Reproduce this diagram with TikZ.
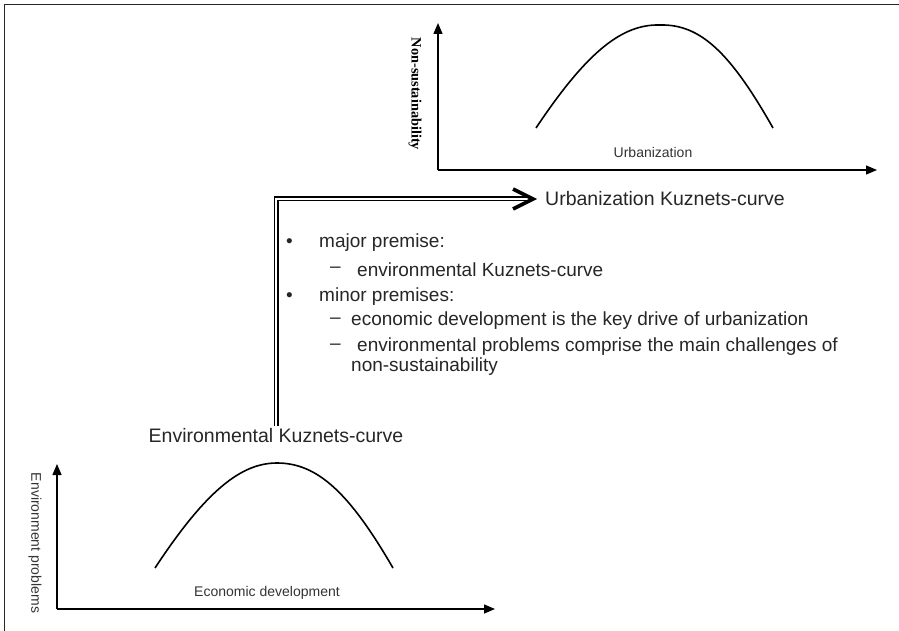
\documentclass[tikz,border=0pt]{standalone}
\usepackage{fontspec}
\setmainfont{Liberation Sans}
\newfontfamily\timesbold{Liberation Serif}
\usetikzlibrary{arrows.meta}
\tikzset{
  axis/.style = {line width=1.4pt, -{Triangle[length=11pt,width=9pt]}},
  hump/.style = {line width=1.6pt},
  axislabel/.style = {text=black!80, font=\fontsize{14}{16}\selectfont, inner sep=0pt},
  boldlabel/.style = {font=\timesbold\bfseries\fontsize{14.3}{16}\selectfont, inner sep=0pt},
  heading/.style = {text=black!85, font=\fontsize{19.5}{22}\selectfont, inner sep=0pt},
  item/.style = {text=black!85, font=\fontsize{19}{22}\selectfont, inner sep=0pt, anchor=west},
  implies/.style = {double, double distance=2.6pt, line width=1.2pt},
  chevron/.style = {line width=3.6pt, line join=miter, line cap=butt}
}

\begin{document}
\begin{tikzpicture}[x=1pt,y=-1pt]
    \useasboundingbox (0,0) rectangle (899,631);
    % frame
    \draw[line width=1.5pt, black!85] (4.5,631) -- (4.5,4.5) -- (899,4.5);

    \begin{scope}[shift={(438,170)}]
        \coordinate (UO) at (0,0);
        \draw[axis] (UO) -- (0,-147);
        \draw[axis] (UO) -- (439,0);
        \draw[hump] (98,-42) .. controls (150,-120) and (185,-146) .. (222,-145)
                             .. controls (262,-146) and (292,-118) .. (335,-42);
        \node [axislabel] (UX) at (215,-18) {Urbanization};
        \node [boldlabel, rotate=-90] (UY) at (-23,-76) {Non-sustainability};
    \end{scope}

    \begin{scope}[shift={(57,609)}]
        \coordinate (EO) at (0,0);
        \draw[axis] (EO) -- (0,-145);
        \draw[axis] (EO) -- (438,0);
        \draw[hump] (98,-41) .. controls (150,-120) and (185,-146) .. (220,-146)
                             .. controls (260,-146) and (292,-117) .. (336,-41);
        \node [axislabel] (EX) at (210,-16) {Economic development};
        \node [axislabel, rotate=-90] (EY) at (-22,-66) {Environment problems};
    \end{scope}

    \node [heading, anchor=west] (UKC) at (545,199) {Urbanization Kuznets-curve};
    \node [heading] (EKC) at (276,436) {Environmental Kuznets-curve};

    \coordinate (TIP) at ([xshift=-12pt]UKC.west);
    \draw[implies, shorten <=3pt, shorten >=2pt] (EKC.north) |- (TIP);
    \draw[chevron] ([xshift=-20pt, yshift=10pt]TIP) -- (TIP) -- ([xshift=-20pt, yshift=-10pt]TIP);

    % premises
    \node [item] (B1) at (286,243) {\textbullet};
    \node [item] (P1) at (319,243) {major premise:};
    \node [item] (D1) at (330,270) {\textendash};
    \node [item] (Q1) at (357,270) {environmental Kuznets-curve};
    \node [item] (B2) at (286,297) {\textbullet};
    \node [item] (P2) at (319,297) {minor premises:};
    \node [item] (D2) at (330,321) {\textendash};
    \node [item] (Q2) at (351,321) {economic development is the key drive of urbanization};
    \node [item] (D3) at (330,347) {\textendash};
    \node [item] (Q3) at (357,347) {environmental problems comprise the main challenges of};
    \node [item] (Q4) at (351,367) {non-sustainability};
\end{tikzpicture}
\end{document}
